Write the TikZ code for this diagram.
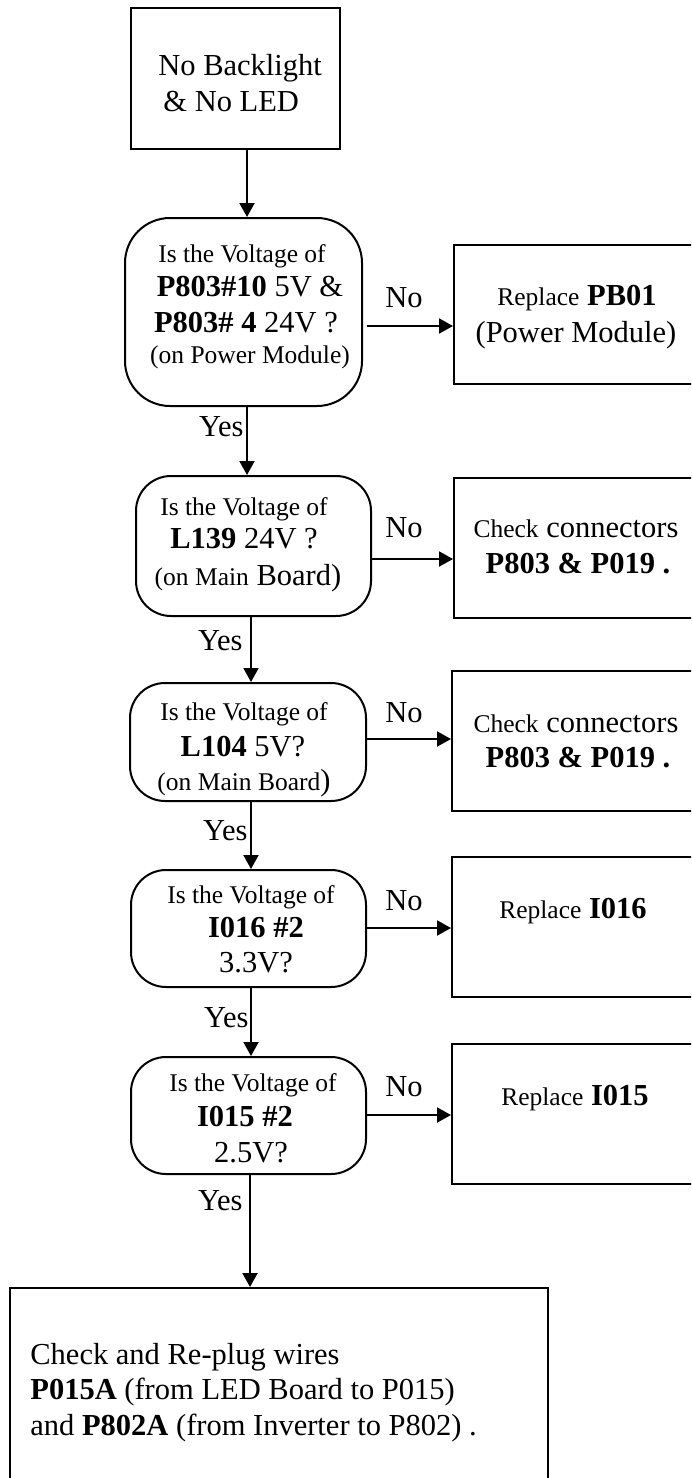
\documentclass[tikz,border=0pt]{standalone}
\usepackage{fontspec}
\setmainfont{Liberation Serif}
\usetikzlibrary{arrows.meta}
\newcommand\bigf{\fontsize{15.25}{18}\selectfont}
\newcommand\smf{\fontsize{12.75}{15}\selectfont}
\tikzset{
  x=0.5pt, y=-0.5pt,
  box/.style={draw, line width=1pt, inner sep=0pt},
  dec/.style={box, rounded corners=17.5pt},
  txt/.style={anchor=base, inner sep=0pt, font=\bigf},
  stxt/.style={txt, font=\smf},
  arr/.style={line width=1pt, -{Triangle[length=7pt,width=7.5pt]}},
}
\begin{document}
\begin{tikzpicture}
\useasboundingbox (0,0) rectangle (691,1478);
\clip (0,0) rectangle (691,1478);

% boxes
\node[box, minimum width=104.5pt, minimum height=70.5pt] (top) at (235.5,78.5) {};
\node[box, rounded corners=22.5pt, minimum width=118.5pt, minimum height=94pt] (d1) at (243.5,312) {};
\node[box, minimum width=123pt, minimum height=69.5pt] (r1) at (577,314.5) {};
\node[dec, minimum width=117.5pt, minimum height=70pt] (d2) at (253.5,546) {};
\node[box, minimum width=123pt, minimum height=70pt] (r2) at (577,548) {};
\node[dec, minimum width=118pt, minimum height=59pt] (d3) at (248,742) {};
\node[box, minimum width=124pt, minimum height=70pt] (r3) at (576,741) {};
\node[dec, minimum width=117.5pt, minimum height=58.5pt] (d4) at (248.5,928.5) {};
\node[box, minimum width=124pt, minimum height=70pt] (r4) at (576,927) {};
\node[dec, minimum width=117.5pt, minimum height=58.5pt] (d5) at (248.5,1115.5) {};
\node[box, minimum width=124pt, minimum height=70pt] (r5) at (576,1114) {};
\node[box, minimum width=269pt, minimum height=116pt] (fin) at (279,1404) {};

% texts
\node[txt, anchor=base west] (t1) at (158,75) {No Backlight};
\node[txt, anchor=base west] (t2) at (163,111) {\& No LED};

\node[stxt] (d1a) at (242,262) {Is the Voltage of};
\node[txt] (d1b) at (250,296) {\textbf{P803\#10} 5V \&};
\node[txt] (d1c) at (246,332) {\textbf{P803\# 4} 24V ?};
\node[stxt] (d1d) at (250,363) {(on Power Module)};
\node[txt] (r1a) at (577,305) {{\smf Replace} \textbf{PB01}};
\node[txt] (r1b) at (576,342) {(Power Module)};

\node[stxt] (d2a) at (244,515) {Is the Voltage of};
\node[txt] (d2b) at (244,548) {\textbf{L139} 24V ?};
\node[txt] (d2c) at (248,585) {{\smf (on Main} Board)};
\node[txt] (r2a) at (576,537) {{\smf Check} connectors};
\node[txt] (r2b) at (578,573) {\textbf{P803 \& P019 .}};

\node[stxt] (d3a) at (244,720) {Is the Voltage of};
\node[txt] (d3b) at (243,756) {\textbf{L104} 5V?};
\node[txt] (d3c) at (244,790) {{\smf (on Main Board})};
\node[txt] (r3a) at (576,732) {{\smf Check} connectors};
\node[txt] (r3b) at (578,767) {\textbf{P803 \& P019 .}};

\node[stxt] (d4a) at (251,903) {Is the Voltage of};
\node[txt] (d4b) at (256,937) {\textbf{I016 \#2}};
\node[txt] (d4c) at (256,972) {3.3V?};
\node[txt] (r4a) at (573,918) {{\smf Replace} \textbf{I016}};

\node[stxt] (d5a) at (253,1091) {Is the Voltage of};
\node[txt] (d5b) at (245,1126) {\textbf{I015 \#2}};
\node[txt] (d5c) at (251,1162) {2.5V?};
\node[txt] (r5a) at (575,1105) {{\smf Replace} \textbf{I015}};

\node[txt, anchor=base west] (fa) at (30,1364) {Check and Re-plug wires};
\node[txt, anchor=base west] (fb) at (30,1399) {\textbf{P015A} (from LED Board to P015)};
\node[txt, anchor=base west] (fc) at (30,1435) {and \textbf{P802A} (from Inverter to P802) .};

% branch labels
\node[txt] (no1) at (404,307) {No};
\node[txt] (no2) at (404,537) {No};
\node[txt] (no3) at (404,722) {No};
\node[txt] (no4) at (404,910) {No};
\node[txt] (no5) at (404,1096) {No};
\node[txt, anchor=base east] (y1) at (244,436) {Yes};
\node[txt, anchor=base east] (y2) at (243,650) {Yes};
\node[txt, anchor=base east] (y3) at (248,840) {Yes};
\node[txt, anchor=base east] (y4) at (249,1027) {Yes};
\node[txt, anchor=base east] (y5) at (243,1210) {Yes};

% spine positions and branch heights
\coordinate (sa) at (247,0);
\coordinate (sb) at (251,0);
\coordinate (sc) at (250,0);
\coordinate (h1) at (0,326);
\coordinate (h2) at (0,559);
\coordinate (h3) at (0,739);
\coordinate (h4) at (0,928);
\coordinate (h5) at (0,1115);

% yes path
\draw[arr] (top.south -| sa) -- (d1.north -| sa);
\draw[arr] (d1.south -| sa) -- (d2.north -| sa);
\draw[arr] (d2.south -| sb) -- (d3.north -| sb);
\draw[arr] (d3.south -| sb) -- (d4.north -| sb);
\draw[arr] (d4.south -| sb) -- (d5.north -| sb);
\draw[arr] (d5.south -| sc) -- (fin.north -| sc);

% no branches
\draw[arr, shorten <=2pt] (d1.east |- h1) -- (r1.west |- h1);
\draw[arr] (d2.east |- h2) -- (r2.west |- h2);
\draw[arr] (d3.east |- h3) -- (r3.west |- h3);
\draw[arr] (d4.east |- h4) -- (r4.west |- h4);
\draw[arr] (d5.east |- h5) -- (r5.west |- h5);
\end{tikzpicture}
\end{document}
